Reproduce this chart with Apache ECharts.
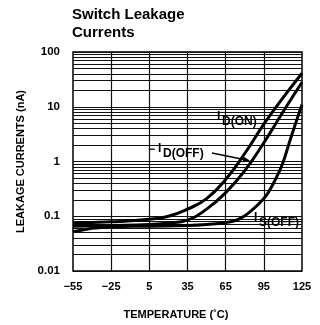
<!DOCTYPE html>
<html>
<head>
<meta charset="utf-8">
<script src="https://cdn.jsdelivr.net/npm/echarts@6/dist/echarts.min.js"></script>
<style>
  html, body { margin: 0; padding: 0; background: #fff; }
  #chart { width: 320px; height: 325px; }
</style>
</head>
<body>
<div id="chart"></div>
<script>
// Temperature (°C) sample points for each curve
const tempOn  = [-55, -25, 5, 20, 35, 50, 65, 80, 95, 110, 125];
const idOn    = [0.075, 0.079, 0.088, 0.1, 0.135, 0.21, 0.47, 1.4, 4.8, 14.5, 41];

const tempOff = [-55, -25, 5, 20, 35, 50, 65, 80, 95, 110, 125];
const idOff   = [0.066, 0.068, 0.071, 0.075, 0.085, 0.135, 0.27, 0.68, 2.2, 8, 28];

const tempS   = [-55, -25, 5, 35, 50, 65, 75, 85, 95, 100, 105, 110, 115, 120, 125];
const isOff   = [0.052, 0.064, 0.066, 0.068, 0.071, 0.077, 0.088, 0.125, 0.21, 0.31, 0.52, 0.95, 2.2, 5, 11];

// Axis ticks
const xTicks = [-55, -25, 5, 35, 65, 95, 125];
const xInner = [-25, 5, 35, 65, 95];
const yTicks = [0.01, 0.1, 1, 10, 100];

// Horizontal rules at 1..9 of every decade on the log scale
const yRules = [];
for (let e = -2; e <= 1; e++) {
  for (let m = 1; m <= 9; m++) yRules.push(+(m * Math.pow(10, e)).toPrecision(3));
}
yRules.push(100);

const pair = (xs, ys) => xs.map((x, i) => [x, ys[i]]);
const FONT = 'Liberation Sans';
const fmtTemp = v => (v < 0 ? '\u2212' + Math.abs(v) : String(v));

const chart = echarts.init(document.getElementById('chart'), null, { renderer: 'canvas' });

const curve = (name, data) => ({
  name, type: 'line', data, smooth: 0.5,
  showSymbol: false, z: 5,
  lineStyle: { color: '#000', width: 3 }
});

const txt = (x, y, text) => ({
  type: 'text', x, y, z: 11,
  style: { text, fontFamily: FONT, fontSize: 12, fontWeight: 'bold', fill: '#000' }
});
const blank = (x, y, w, h) => ({
  type: 'rect', z: 3, shape: { x, y, width: w, height: h }, style: { fill: '#fff' }
});

chart.setOption({
  animation: false,
  backgroundColor: '#fff',
  title: {
    text: 'Switch Leakage\nCurrents',
    left: 67, top: 1,
    textStyle: { fontFamily: FONT, fontSize: 15, fontWeight: 'bold', color: '#000', lineHeight: 18 }
  },
  grid: {
    left: 73, right: 18, top: 52, bottom: 53,
    show: true, borderColor: '#000', borderWidth: 1.5, backgroundColor: 'transparent'
  },
  xAxis: {
    type: 'value', min: -55, max: 125,
    name: 'TEMPERATURE (\u02DAC)',
    nameLocation: 'middle', nameGap: 38,
    nameTextStyle: { fontFamily: FONT, fontSize: 11, fontWeight: 'bold', color: '#000', padding: [0, 23, 0, 0] },
    axisLine: { show: false },
    axisTick: { show: false, customValues: xTicks },
    splitLine: { show: false },
    axisLabel: {
      customValues: xTicks, formatter: fmtTemp, margin: 10,
      fontFamily: FONT, fontSize: 11, fontWeight: 'bold', color: '#000'
    }
  },
  yAxis: {
    type: 'log', logBase: 10, min: 0.01, max: 100,
    name: 'LEAKAGE CURRENTS (nA)',
    nameLocation: 'middle', nameGap: 44,
    nameTextStyle: { fontFamily: FONT, fontSize: 11, fontWeight: 'bold', color: '#000' },
    axisLine: { show: false },
    axisTick: { show: false },
    splitLine: { show: false },
    axisLabel: {
      customValues: yTicks, margin: 13,
      formatter: v => String(+v.toPrecision(3)),
      fontFamily: FONT, fontSize: 11.5, fontWeight: 'bold', color: '#000'
    }
  },
  series: [
    {
      name: 'rules', type: 'line', data: [], z: 1, silent: true,
      markLine: {
        silent: true, symbol: 'none', animation: false,
        label: { show: false },
        lineStyle: { color: '#111', width: 1.2, type: 'solid' },
        data: yRules.map(v => ({ yAxis: v })).concat(xInner.map(v => ({ xAxis: v })))
      }
    },
    curve('ID(ON)', pair(tempOn, idOn)),
    curve('-ID(OFF)', pair(tempOff, idOff)),
    curve('IS(OFF)', pair(tempS, isOff))
  ],
  graphic: [
    // I_D(ON)
    blank(215, 110, 45, 19),
    txt(217, 111, 'I'),
    txt(222, 116, 'D(ON)'),
    // −I_D(OFF) with pointer to its curve
    blank(146, 142, 64, 20),
    txt(148, 144, '\u2212'),
    txt(158, 143, 'I'),
    txt(163, 148, 'D(OFF)'),
    { type: 'line', z: 11, shape: { x1: 212, y1: 153, x2: 244, y2: 159.5 }, style: { stroke: '#000', lineWidth: 1.3 } },
    { type: 'polygon', z: 11, shape: { points: [[250, 160.7], [242.6, 162.3], [243.6, 156.6]] }, style: { fill: '#000' } },
    // I_S(OFF)
    blank(253, 212, 45, 17),
    txt(254, 212, 'I'),
    txt(259, 217, 'S(OFF)')
  ]
});
</script>
</body>
</html>
